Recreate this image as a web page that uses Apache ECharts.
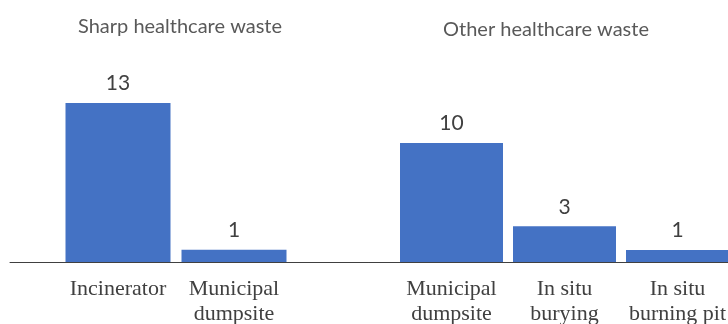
<!DOCTYPE html>
<html>
<head>
<meta charset="utf-8">
<script src="https://cdn.jsdelivr.net/npm/echarts@6/dist/echarts.min.js"></script>
<style>
  html, body { margin: 0; padding: 0; background: #ffffff; }
  #chart { width: 728px; height: 324px; }
</style>
</head>
<body>
<div id="chart"></div>
<script>
// Disposal methods by type of healthcare waste
const sharpCategories = ['Incinerator', 'Municipal\ndumpsite'];
const sharpValues = [13, 1];
const otherCategories = ['Municipal\ndumpsite', 'In situ\nburying', 'In situ\nburning pit'];
const otherValues = [10, 3, 1];
const panelTitles = ['Sharp healthcare waste', 'Other healthcare waste'];

const BAR = '#4472C4';
const SANS = 'Lato, "Open Sans", sans-serif';
const SERIF = '"Liberation Serif", "DejaVu Serif", serif';

const chart = echarts.init(document.getElementById('chart'), null, { renderer: 'canvas' });

const catAxis = (gridIndex, data) => ({
  type: 'category',
  gridIndex,
  data,
  axisLine: { show: false },
  axisTick: { show: false },
  axisLabel: {
    color: '#404040',
    fontFamily: SERIF,
    fontSize: 22,
    lineHeight: 25,
    margin: 15,
    interval: 0
  }
});

const valAxis = (gridIndex, max) => ({
  type: 'value',
  gridIndex,
  min: 0,
  max,
  show: false
});

const barSeries = (idx, data, width) => ({
  type: 'bar',
  xAxisIndex: idx,
  yAxisIndex: idx,
  data,
  barWidth: width,
  itemStyle: { color: BAR },
  label: {
    show: true,
    position: 'top',
    distance: 9,
    color: '#404040',
    fontFamily: SANS,
    fontSize: 21
  },
  silent: true
});

chart.setOption({
  animation: false,
  backgroundColor: '#ffffff',
  title: [
    {
      text: panelTitles[0],
      left: 175, top: 12,
      textAlign: 'center',
      textStyle: { color: '#595959', fontFamily: SANS, fontWeight: 'normal', fontSize: 20 }
    },
    {
      text: panelTitles[1],
      left: 541, top: 15,
      textAlign: 'center',
      textStyle: { color: '#595959', fontFamily: SANS, fontWeight: 'normal', fontSize: 20 }
    }
  ],
  grid: [
    { left: 60, width: 232, top: 103, bottom: 62, outerBoundsMode: 'none' },
    { left: 395, width: 339, top: 143, bottom: 62, outerBoundsMode: 'none' },
    // baseline running under both panels
    { left: 10, right: 0, top: 103, bottom: 62, outerBoundsMode: 'none' }
  ],
  xAxis: [
    catAxis(0, sharpCategories),
    catAxis(1, otherCategories),
    {
      type: 'value', gridIndex: 2, min: 0, max: 1,
      axisLine: { show: true, onZero: false, lineStyle: { color: '#404040', width: 1 } },
      axisTick: { show: false }, axisLabel: { show: false }, splitLine: { show: false }
    }
  ],
  yAxis: [
    valAxis(0, 13),
    valAxis(1, 10),
    { type: 'value', gridIndex: 2, min: 0, max: 1, show: false }
  ],
  series: [
    barSeries(0, sharpValues, 105),
    barSeries(1, otherValues, 103)
  ]
});
</script>
</body>
</html>
